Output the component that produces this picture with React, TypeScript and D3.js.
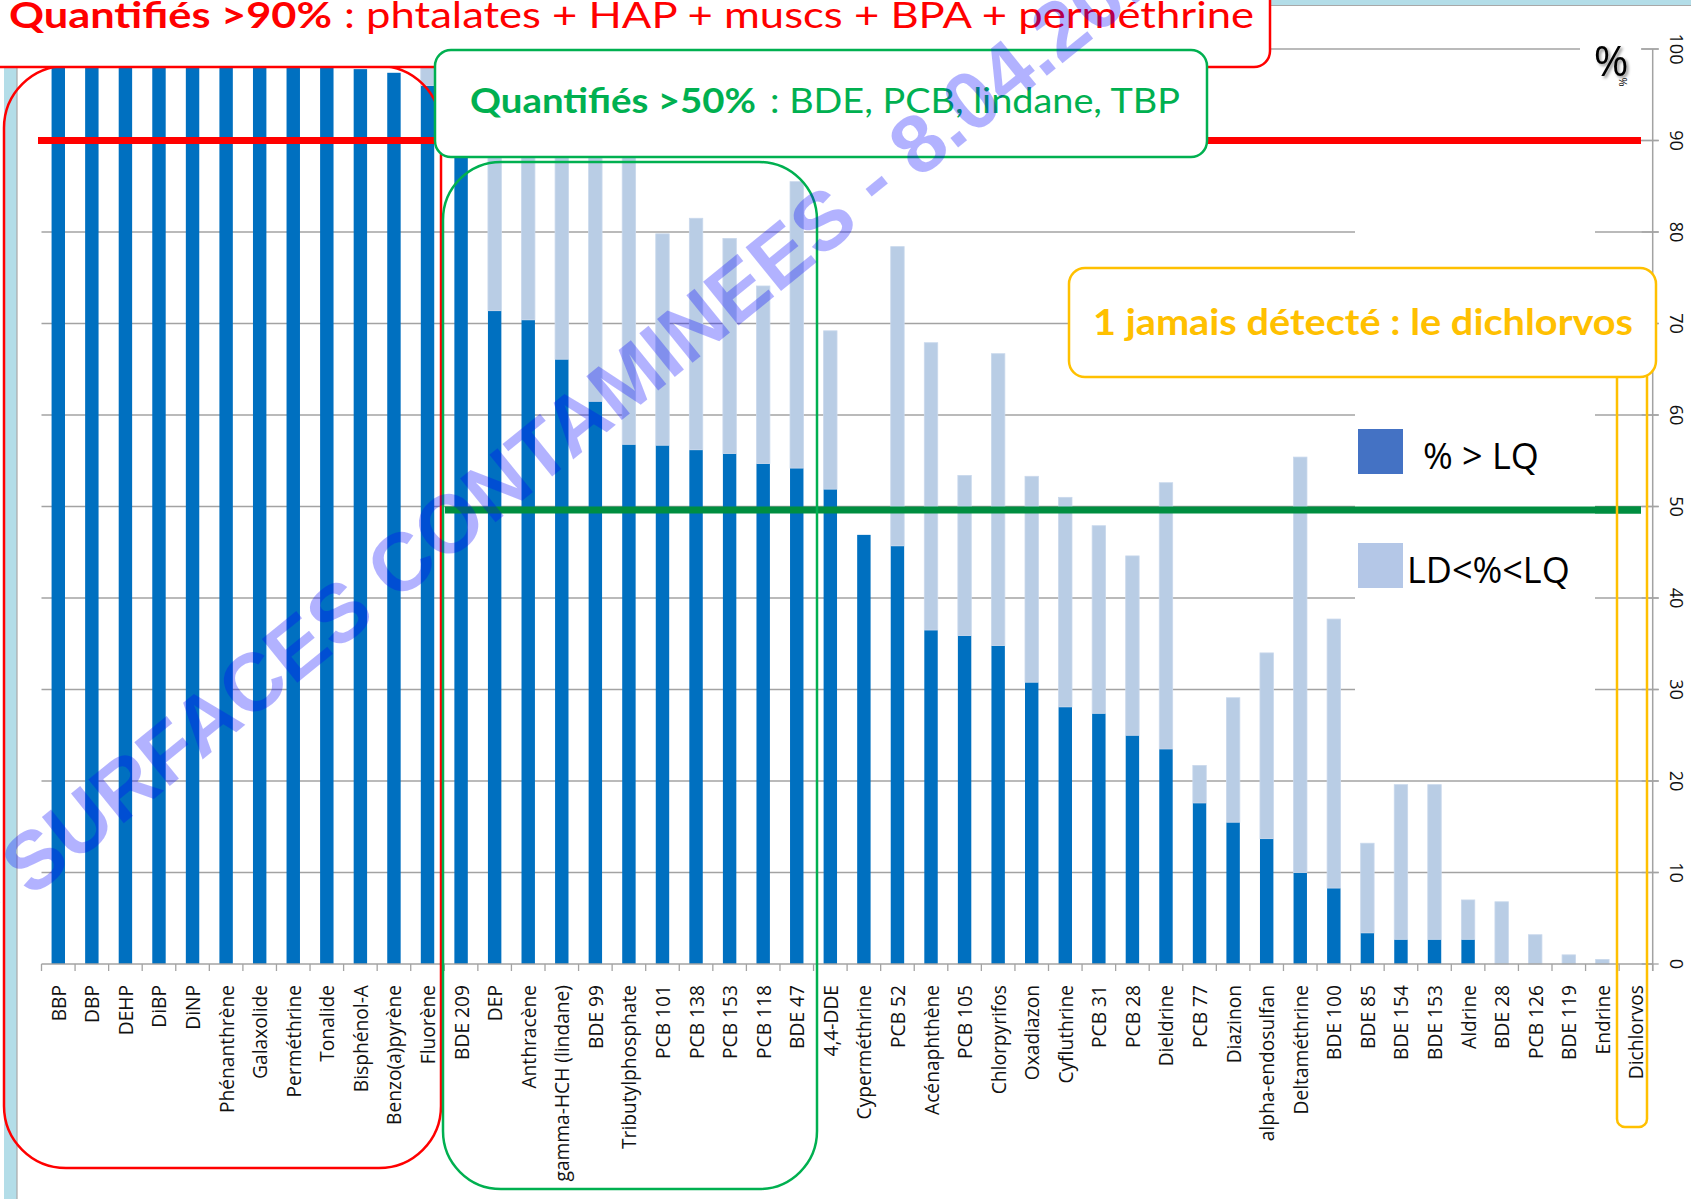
import React from "react";
import * as d3 from "d3";

const categories = [
  "BBP", "DBP", "DEHP", "DiBP", "DiNP", "Phénanthrène", "Galaxolide", "Perméthrine", "Tonalide", "Bisphénol-A", "Benzo(a)pyrène", "Fluorène",
  "BDE 209", "DEP", "Anthracène", "gamma-HCH (lindane)", "BDE 99", "Tributylphosphate", "PCB 101", "PCB 138", "PCB 153", "PCB 118", "BDE 47",
  "4,4-DDE", "Cyperméthrine", "PCB 52", "Acénaphthène", "PCB 105", "Chlorpyrifos", "Oxadiazon", "Cyfluthrine", "PCB 31", "PCB 28", "Dieldrine",
  "PCB 77", "Diazinon", "alpha-endosulfan", "Deltaméthrine", "BDE 100", "BDE 85", "BDE 154", "BDE 153", "Aldrine", "BDE 28", "PCB 126", "BDE 119",
  "Endrine", "Dichlorvos",
];

// % > LQ (dark blue segment)
const aboveLQ = [
  100, 100, 100, 100, 100, 100, 100, 100, 100, 97.8, 97.4, 96.0,
  92, 71.4, 70.4, 66.1, 61.5, 56.8, 56.7, 56.2, 55.8, 54.7, 54.2,
  51.9, 46.9, 45.7, 36.5, 35.9, 34.8, 30.8, 28.1, 27.4, 25.0, 23.5,
  17.6, 15.5, 13.7, 10.0, 8.3, 3.4, 2.7, 2.7, 2.7, 0, 0, 0,
  0, 0,
];

// LD < % < LQ (light blue segment, stacked on top)
const betweenLDLQ = [
  0, 0, 0, 0, 0, 0, 0, 0, 0, 0, 0, 4.0,
  6, 26.6, 27.6, 31.9, 36.5, 41.2, 23.1, 25.3, 23.5, 19.4, 31.3,
  17.3, 0, 32.7, 31.4, 17.5, 31.9, 22.5, 22.9, 20.5, 19.6, 29.1,
  4.1, 13.6, 20.3, 45.4, 29.4, 9.8, 16.9, 16.9, 4.3, 6.8, 3.2, 1.0,
  0.5, 0,
];

const yTicks = [0, 10, 20, 30, 40, 50, 60, 70, 80, 90, 100];
const seriesNames = ["% > LQ", "LD<%<LQ"];
const thresholds = [90, 50];

const W = 1691;
const H = 1199;
const PL = 41.5;
const PR = 1652.7;
const Y0 = 964;
const Y100 = 49;

const DARK = "#0070C0";
const LIGHT = "#B9CDE5";
const GRID = "#A3A3A3";
const RED = "#FF0000";
const GREEN = "#00B050";
const YELLOW = "#FFC000";
const LINEGREEN = "#008E40";

const UI = "'Open Sans', 'Noto Sans', 'DejaVu Sans', sans-serif";
const TITLE = "Lato, 'Open Sans', sans-serif";

export default function App() {
  const x = d3.scaleBand<string>().domain(categories).range([PL, PR]).paddingInner(0.6).paddingOuter(0.3);
  const y = d3.scaleLinear().domain([0, 100]).range([Y0, Y100]);
  const step = x.step();

  const table = categories.map((c, i) => ({ cat: c, lq: aboveLQ[i], ld: betweenLDLQ[i] }));
  const stacked = d3.stack<any>().keys(["lq", "ld"])(table);
  const colors = [DARK, LIGHT];

  const boundaries = d3.range(categories.length + 1).map((i) => PL + i * step);

  const wmAngle = -39;

  return (
    <svg width={W} height={H} style={{ position: "absolute", left: 0, top: 0, display: "block", background: "#fff" }}>
      <defs>
        <filter id="shadow" x="-30%" y="-30%" width="160%" height="160%">
          <feDropShadow dx="2" dy="2" stdDeviation="1.5" floodColor="#000" floodOpacity="0.45" />
        </filter>
      </defs>
      <rect x={0} y={0} width={W} height={H} fill="#fff" />
      {/* light blue frame strips */}
      <rect x={4} y={0} width={13} height={H} fill="#B3DDE8" />
      <line x1={17} x2={17} y1={0} y2={H} stroke="#A8A8A8" strokeWidth={1.2} />
      <rect x={1265} y={0} width={W - 1265} height={5} fill="#B3DDE8" />
      <line x1={1265} x2={W} y1={5.5} y2={5.5} stroke="#A8A8A8" strokeWidth={1.2} />

      {/* gridlines */}
      {yTicks.filter((t) => t > 0).map((t) => (
        <line key={t} x1={PL} x2={PR + 6} y1={y(t)} y2={y(t)} stroke={GRID} strokeWidth={1.3} />
      ))}

      {/* bars */}
      {stacked.map((s, si) => (
        <g key={si} fill={colors[si]}>
          {s.map((d: any, i: number) => {
            const h = y(d[0]) - y(d[1]);
            if (h <= 0) return null;
            return (
              <rect
                key={i}
                x={x(categories[i])}
                y={y(d[1])}
                width={x.bandwidth()}
                height={h}
                stroke={si === 1 ? "#C9D8EC" : "none"}
                strokeWidth={si === 1 ? 0.8 : 0}
              />
            );
          })}
        </g>
      ))}

      {/* axes */}
      <line x1={PL} x2={PR} y1={Y0} y2={Y0} stroke={GRID} strokeWidth={1.5} />
      {boundaries.map((bx, i) => (
        <line key={i} x1={bx} x2={bx} y1={Y0} y2={Y0 + 7} stroke={GRID} strokeWidth={1.3} />
      ))}
      <line x1={PR} x2={PR} y1={Y100} y2={Y0 + 7} stroke={GRID} strokeWidth={1.5} />
      {yTicks.map((t) => (
        <line key={t} x1={PR - 11} x2={PR + 6} y1={y(t)} y2={y(t)} stroke={GRID} strokeWidth={1.3} />
      ))}
      {yTicks.map((t) => (
        <text
          key={t}
          transform={`translate(${1677},${y(t)}) rotate(90)`}
          textAnchor="middle"
          dominantBaseline="central"
          fontFamily={UI}
          fontSize={18}
          fill="#111"
        >
          {t}
        </text>
      ))}

      {/* category labels */}
      {categories.map((c) => (
        <text
          key={c}
          transform={`translate(${(x(c) as number) + x.bandwidth() / 2},${985}) rotate(-90)`}
          textAnchor="end"
          dominantBaseline="central"
          fontFamily={UI}
          fontSize={19.2}
          fill="#111"
        >
          {c}
        </text>
      ))}

      {/* threshold lines */}
      <line x1={38} x2={1641} y1={y(thresholds[0])} y2={y(thresholds[0])} stroke={RED} strokeWidth={7} />
      <line x1={445} x2={1641} y1={y(thresholds[1]) + 3.5} y2={y(thresholds[1]) + 3.5} stroke={LINEGREEN} strokeWidth={7} />

      {/* legend */}
      <rect x={1355} y={215} width={240} height={490} fill="#fff" />
      <line x1={1355} x2={1641} y1={y(thresholds[1]) + 3.5} y2={y(thresholds[1]) + 3.5} stroke={LINEGREEN} strokeWidth={7} />
      <rect x={1358} y={429} width={45} height={45} fill="#4472C4" />
      <text x={1423} y={469} fontFamily={UI} fontSize={36} fill="#000">{seriesNames[0]}</text>
      <rect x={1358} y={543} width={45} height={45} fill="#B4C7E7" />
      <text x={1407} y={583} fontFamily={UI} fontSize={36} fill="#000">{seriesNames[1]}</text>

      {/* % unit label */}
      <rect x={1580} y={40} width={61} height={50} fill="#fff" />
      <text x={1611} y={76} textAnchor="middle" fontFamily={UI} fontSize={42} fill="#000" filter="url(#shadow)">%</text>
      <text transform="translate(1623,82) rotate(90)" textAnchor="middle" dominantBaseline="central" fontFamily={UI} fontSize={11} fill="#000">%</text>

      {/* group outlines */}
      <rect x={4} y={66} width={437} height={1102} rx={62} ry={62} fill="none" stroke={RED} strokeWidth={2.5} />
      <rect x={443} y={162} width={374} height={1027} rx={58} ry={58} fill="none" stroke={GREEN} strokeWidth={2.5} />
      <rect x={1617} y={360} width={30} height={767} rx={8} ry={8} fill="none" stroke={YELLOW} strokeWidth={2.5} />

      {/* annotation boxes */}
      <rect x={-20} y={-30} width={1290} height={97} rx={16} ry={16} fill="#fff" stroke={RED} strokeWidth={2.5} />
      <text x={9} y={28} fontFamily={TITLE} fontWeight={700} fontSize={37} fill={RED} textLength={323} lengthAdjust="spacingAndGlyphs">
        Quantifiés &gt;90%
      </text>
      <text x={344} y={28} fontFamily={TITLE} fontWeight={400} fontSize={37} fill={RED} textLength={910} lengthAdjust="spacingAndGlyphs">
        : phtalates + HAP + muscs + BPA + perméthrine
      </text>

      <rect x={435} y={50} width={772} height={107} rx={16} ry={16} fill="#fff" stroke={GREEN} strokeWidth={2.5} />
      <text x={470} y={113} fontFamily={TITLE} fontWeight={700} fontSize={35} fill={GREEN} textLength={286} lengthAdjust="spacingAndGlyphs">
        Quantifiés &gt;50%
      </text>
      <text x={770} y={113} fontFamily={TITLE} fontWeight={400} fontSize={35} fill={GREEN} textLength={410} lengthAdjust="spacingAndGlyphs">
        : BDE, PCB, lindane, TBP
      </text>

      <rect x={1069} y={268} width={587} height={109} rx={16} ry={16} fill="#fff" stroke={YELLOW} strokeWidth={2.5} />
      <text x={1093} y={335} fontFamily={TITLE} fontWeight={700} fontSize={37} fill={YELLOW} textLength={540} lengthAdjust="spacingAndGlyphs">
        1 jamais détecté : le dichlorvos
      </text>

      {/* watermark */}
      <text
        transform={`translate(-8,930) rotate(${wmAngle})`}
        fontFamily="'Liberation Sans', Arial, sans-serif"
        fontWeight={700}
        fontSize={82}
        fill="#0000FF"
        fillOpacity={0.3}
      >
        - SURFACES CONTAMINEES - 8.04.2016
      </text>
    </svg>
  );
}
